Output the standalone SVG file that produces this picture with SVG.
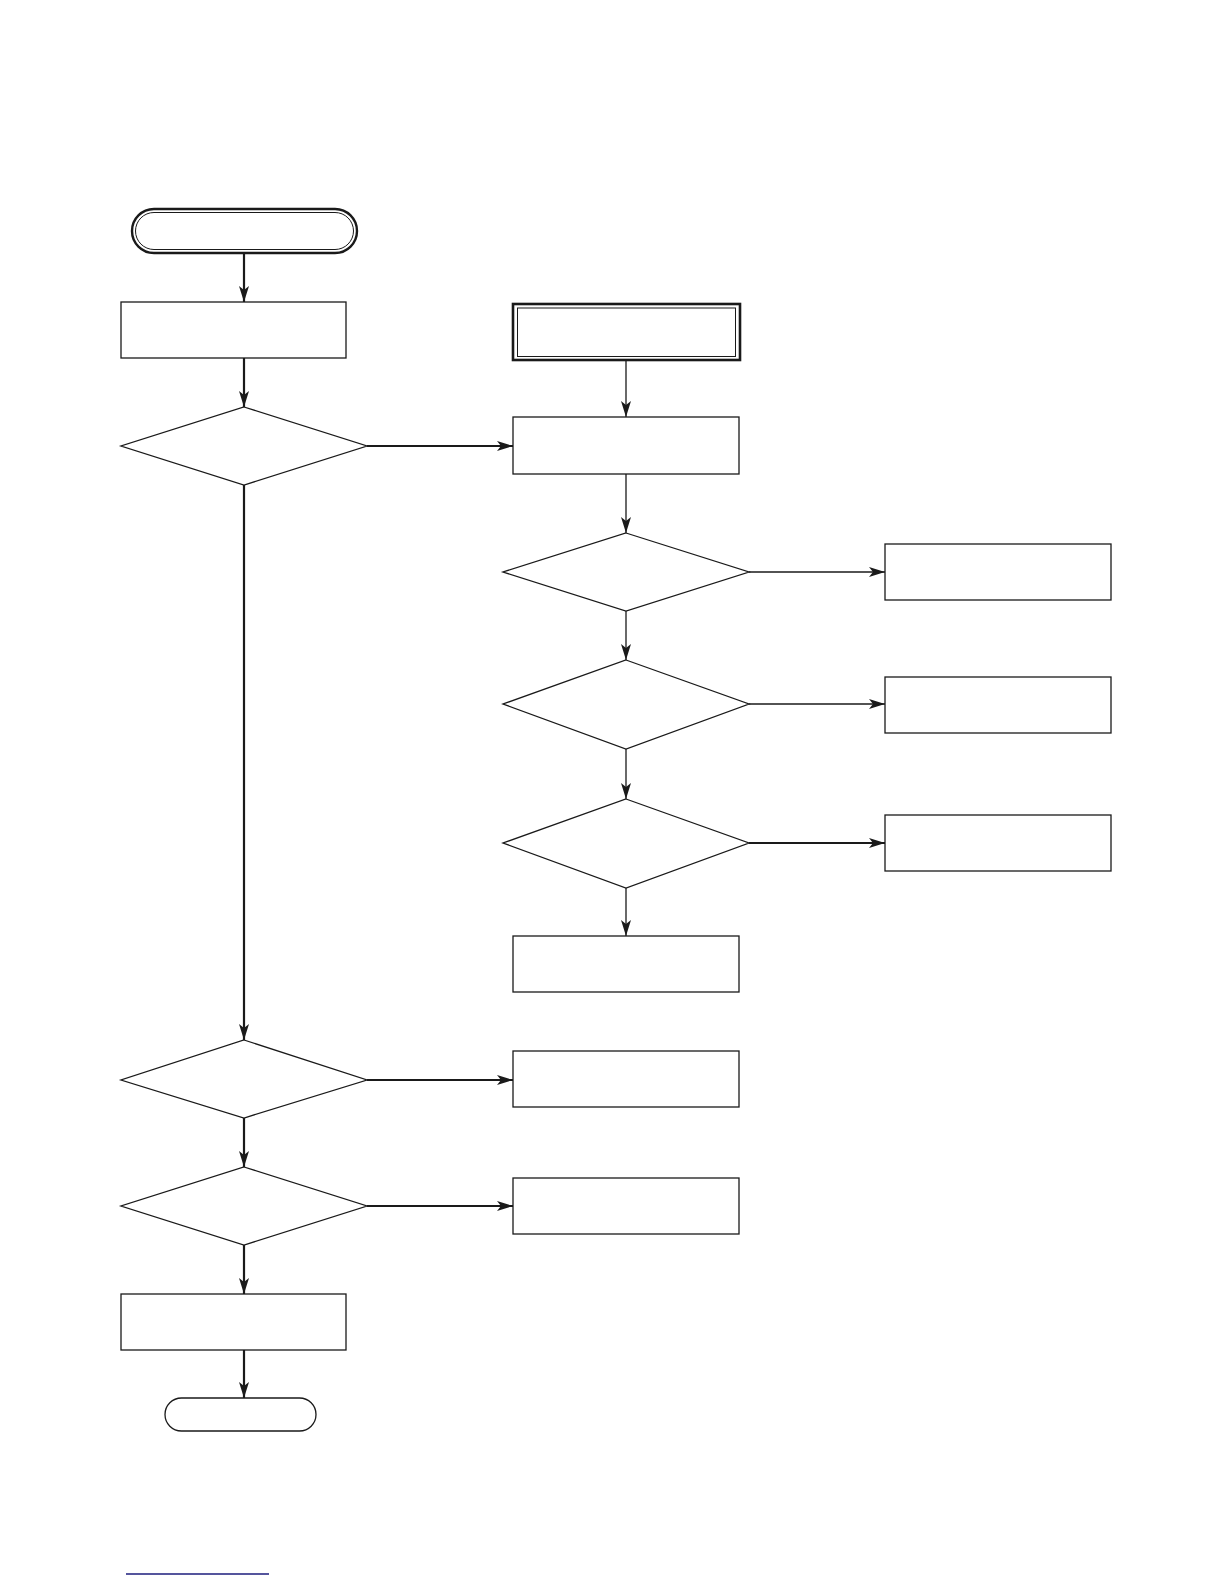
<svg xmlns="http://www.w3.org/2000/svg" width="1224" height="1584" viewBox="0 0 1224 1584">
<style>
.n{fill:#fff;stroke:#1a1a1a;stroke-width:1.3}
.c{fill:none;stroke:#1a1a1a}
.thick{stroke-width:2.2}
.thin{stroke-width:1.3}
</style>
<defs>
<marker id="ah" markerUnits="userSpaceOnUse" markerWidth="18" markerHeight="12" refX="16" refY="5" orient="auto">
<path d="M0,0 L16,5 L0,10 L4,5 z" fill="#1a1a1a"/>
</marker>
</defs>
<rect width="1224" height="1584" fill="#fff"/>
<g id="connectors">
<line class="c thick" x1="244" y1="253" x2="244" y2="302" marker-end="url(#ah)"/>
<line class="c thick" x1="244" y1="358" x2="244" y2="407" marker-end="url(#ah)"/>
<line class="c thick" x1="244" y1="485" x2="244" y2="1040" marker-end="url(#ah)"/>
<line class="c thick" x1="244" y1="1118" x2="244" y2="1167" marker-end="url(#ah)"/>
<line class="c thick" x1="244" y1="1245" x2="244" y2="1294" marker-end="url(#ah)"/>
<line class="c thick" x1="244" y1="1350" x2="244" y2="1398" marker-end="url(#ah)"/>
<line class="c thick" x1="367" y1="446" x2="513" y2="446" marker-end="url(#ah)"/>
<line class="c thick" x1="367" y1="1080" x2="513" y2="1080" marker-end="url(#ah)"/>
<line class="c thick" x1="367" y1="1206" x2="513" y2="1206" marker-end="url(#ah)"/>
<line class="c thin" x1="626" y1="360" x2="626" y2="417" marker-end="url(#ah)"/>
<line class="c thin" x1="626" y1="474" x2="626" y2="533" marker-end="url(#ah)"/>
<line class="c thin" x1="626" y1="611" x2="626" y2="660" marker-end="url(#ah)"/>
<line class="c thin" x1="626" y1="749" x2="626" y2="799" marker-end="url(#ah)"/>
<line class="c thin" x1="626" y1="888" x2="626" y2="936" marker-end="url(#ah)"/>
<line class="c thin" x1="749" y1="572" x2="885" y2="572" marker-end="url(#ah)"/>
<line class="c" stroke-width="1.6" x1="749" y1="704" x2="885" y2="704" marker-end="url(#ah)"/>
<line class="c thick" x1="749" y1="843" x2="885" y2="843" marker-end="url(#ah)"/>
</g>
<g id="start">
<rect x="132" y="209" width="225" height="44" rx="22" fill="#fff" stroke="#1a1a1a" stroke-width="2.4"/>
<rect x="135.5" y="212.5" width="218" height="37" rx="18.5" fill="none" stroke="#1a1a1a" stroke-width="1"/>
</g>
<g id="box1"><rect class="n" x="121" y="302" width="225" height="56"/></g>
<g id="entry">
<rect x="513" y="304" width="227" height="56" fill="#fff" stroke="#1a1a1a" stroke-width="2.6"/>
<rect x="517.5" y="308" width="218" height="48.5" fill="none" stroke="#1a1a1a" stroke-width="1"/>
</g>
<g id="dec1"><polygon class="n" points="244,407 367,446 244,485 121,446"/></g>
<g id="box2"><rect class="n" x="513" y="417" width="226" height="57"/></g>
<g id="dec2"><polygon class="n" points="626,533 749,572 626,611 503,572"/></g>
<g id="boxR1"><rect class="n" x="885" y="544" width="226" height="56"/></g>
<g id="dec3"><polygon class="n" points="626,660 749,704 626,749 503,704"/></g>
<g id="boxR2"><rect class="n" x="885" y="677" width="226" height="56"/></g>
<g id="dec4"><polygon class="n" points="626,799 749,843 626,888 503,843"/></g>
<g id="boxR3"><rect class="n" x="885" y="815" width="226" height="56"/></g>
<g id="box3"><rect class="n" x="513" y="936" width="226" height="56"/></g>
<g id="dec5"><polygon class="n" points="244,1040 367,1080 244,1118 121,1080"/></g>
<g id="box4"><rect class="n" x="513" y="1051" width="226" height="56"/></g>
<g id="dec6"><polygon class="n" points="244,1167 367,1206 244,1245 121,1206"/></g>
<g id="box5"><rect class="n" x="513" y="1178" width="226" height="56"/></g>
<g id="box6"><rect class="n" x="121" y="1294" width="225" height="56"/></g>
<g id="end"><rect class="n" x="165" y="1398" width="151" height="33" rx="16.5"/></g>
<line x1="126" y1="1574" x2="269" y2="1574" stroke="#1c1c7c" stroke-width="1.6"/>
</svg>
